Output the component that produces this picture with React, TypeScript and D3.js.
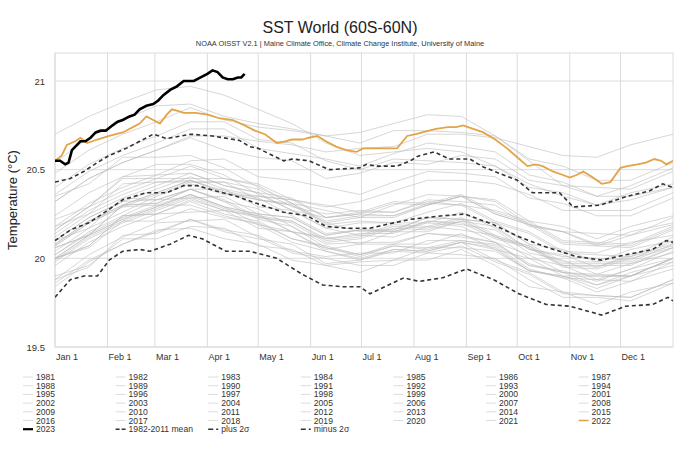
import React from 'react';
import * as d3 from 'd3';

// sample days (day of year) for the background years
const gridDays = [0, 20, 40, 60, 80, 100, 120, 140, 160, 180, 200, 220, 240, 260, 280, 300, 320, 340, 365];

const greyYears = [
  1981, 1982, 1983, 1984, 1985, 1986, 1987, 1988, 1989, 1990,
  1991, 1992, 1993, 1994, 1995, 1996, 1997, 1998, 1999, 2000,
  2001, 2002, 2003, 2004, 2005, 2006, 2007, 2008, 2009, 2010,
  2011, 2012, 2013, 2014, 2015, 2016, 2017, 2018, 2019, 2020, 2021,
];

const greyValues: number[][] = [
  [20.00, 20.06, 20.21, 20.21, 20.28, 20.23, 20.20, 20.11, 20.06, 20.01, 20.07, 20.06, 20.10, 20.07, 19.94, 19.89, 19.81, 19.87, 19.94],
  [19.90, 19.96, 20.11, 20.11, 20.18, 20.17, 20.07, 20.05, 19.96, 19.98, 19.99, 20.06, 20.06, 20.04, 19.93, 19.90, 19.85, 19.92, 19.98],
  [20.02, 20.14, 20.23, 20.30, 20.30, 20.24, 20.19, 20.09, 20.04, 19.99, 20.04, 20.03, 20.07, 19.98, 19.91, 19.80, 19.79, 19.78, 19.88],
  [19.88, 20.02, 20.12, 20.20, 20.21, 20.22, 20.12, 20.03, 20.00, 19.96, 19.96, 20.03, 20.02, 20.00, 19.88, 19.78, 19.78, 19.76, 19.86],
  [19.84, 19.98, 20.08, 20.16, 20.17, 20.11, 20.08, 19.99, 19.96, 19.92, 19.99, 19.99, 20.05, 19.96, 19.84, 19.81, 19.74, 19.81, 19.86],
  [19.88, 19.95, 20.13, 20.14, 20.22, 20.16, 20.13, 20.04, 20.01, 20.03, 20.03, 20.10, 20.10, 20.08, 19.96, 19.93, 19.87, 19.94, 20.00],
  [20.02, 20.15, 20.24, 20.33, 20.34, 20.35, 20.25, 20.23, 20.13, 20.16, 20.16, 20.23, 20.22, 20.20, 20.08, 20.05, 19.98, 20.05, 20.10],
  [20.10, 20.17, 20.34, 20.33, 20.39, 20.32, 20.22, 20.18, 20.06, 20.02, 20.07, 20.05, 20.09, 19.99, 19.92, 19.81, 19.79, 19.78, 19.88],
  [19.86, 19.99, 20.08, 20.15, 20.22, 20.15, 20.11, 20.08, 19.97, 19.99, 20.05, 20.04, 20.09, 20.06, 19.93, 19.89, 19.88, 19.87, 19.98],
  [20.00, 20.07, 20.24, 20.25, 20.33, 20.27, 20.24, 20.15, 20.12, 20.08, 20.15, 20.15, 20.21, 20.12, 20.07, 19.97, 19.97, 19.97, 20.06],
  [20.06, 20.13, 20.30, 20.31, 20.39, 20.33, 20.23, 20.21, 20.11, 20.14, 20.14, 20.21, 20.20, 20.11, 20.06, 19.96, 19.96, 19.96, 20.06],
  [20.07, 20.20, 20.29, 20.30, 20.36, 20.29, 20.19, 20.15, 20.04, 20.00, 20.05, 20.04, 20.09, 20.05, 19.93, 19.90, 19.83, 19.90, 19.96],
  [19.96, 20.09, 20.18, 20.25, 20.32, 20.25, 20.21, 20.11, 20.07, 20.02, 20.08, 20.14, 20.12, 20.09, 19.96, 19.92, 19.91, 19.90, 20.00],
  [19.98, 20.11, 20.20, 20.27, 20.34, 20.27, 20.23, 20.20, 20.09, 20.11, 20.17, 20.16, 20.21, 20.18, 20.05, 20.01, 20.00, 19.99, 20.10],
  [20.10, 20.23, 20.32, 20.33, 20.39, 20.32, 20.28, 20.18, 20.08, 20.09, 20.09, 20.14, 20.13, 20.09, 19.97, 19.92, 19.85, 19.90, 20.00],
  [20.00, 20.13, 20.22, 20.29, 20.36, 20.29, 20.25, 20.15, 20.11, 20.13, 20.12, 20.18, 20.16, 20.13, 20.00, 19.96, 19.88, 19.94, 20.04],
  [20.04, 20.17, 20.26, 20.35, 20.42, 20.36, 20.35, 20.33, 20.29, 20.32, 20.38, 20.44, 20.44, 20.42, 20.36, 20.27, 20.27, 20.27, 20.37],
  [20.35, 20.42, 20.57, 20.57, 20.58, 20.51, 20.40, 20.31, 20.20, 20.15, 20.15, 20.20, 20.18, 20.09, 20.02, 19.92, 19.90, 19.90, 20.00],
  [20.00, 20.07, 20.24, 20.25, 20.26, 20.27, 20.17, 20.15, 20.05, 20.08, 20.08, 20.08, 20.14, 20.05, 20.00, 19.90, 19.90, 19.90, 20.00],
  [19.99, 20.12, 20.21, 20.28, 20.35, 20.28, 20.24, 20.21, 20.10, 20.12, 20.18, 20.17, 20.22, 20.12, 20.06, 19.95, 19.94, 20.00, 20.06],
  [20.08, 20.21, 20.30, 20.37, 20.44, 20.37, 20.33, 20.30, 20.19, 20.21, 20.20, 20.26, 20.31, 20.21, 20.15, 20.04, 20.03, 20.09, 20.13],
  [20.12, 20.25, 20.34, 20.41, 20.48, 20.41, 20.37, 20.34, 20.23, 20.25, 20.31, 20.30, 20.35, 20.32, 20.19, 20.15, 20.14, 20.13, 20.23],
  [20.22, 20.29, 20.46, 20.47, 20.48, 20.41, 20.37, 20.27, 20.23, 20.25, 20.24, 20.30, 20.35, 20.25, 20.19, 20.08, 20.07, 20.06, 20.16],
  [20.14, 20.27, 20.36, 20.43, 20.43, 20.43, 20.39, 20.29, 20.25, 20.27, 20.26, 20.32, 20.30, 20.27, 20.21, 20.10, 20.09, 20.08, 20.18],
  [20.16, 20.29, 20.45, 20.45, 20.52, 20.45, 20.41, 20.31, 20.21, 20.24, 20.24, 20.31, 20.30, 20.20, 20.14, 20.03, 20.02, 20.01, 20.12],
  [20.08, 20.21, 20.30, 20.37, 20.44, 20.37, 20.33, 20.30, 20.20, 20.23, 20.23, 20.30, 20.35, 20.25, 20.19, 20.15, 20.07, 20.13, 20.19],
  [20.18, 20.25, 20.42, 20.43, 20.44, 20.38, 20.34, 20.24, 20.14, 20.16, 20.15, 20.21, 20.19, 20.16, 20.03, 19.99, 19.91, 19.97, 20.03],
  [20.00, 20.13, 20.22, 20.29, 20.36, 20.29, 20.25, 20.23, 20.13, 20.16, 20.16, 20.23, 20.22, 20.20, 20.08, 19.98, 19.98, 19.98, 20.08],
  [20.07, 20.20, 20.29, 20.36, 20.43, 20.43, 20.33, 20.31, 20.27, 20.23, 20.30, 20.36, 20.35, 20.33, 20.21, 20.18, 20.11, 20.18, 20.24],
  [20.24, 20.37, 20.46, 20.53, 20.53, 20.47, 20.36, 20.27, 20.17, 20.13, 20.19, 20.18, 20.23, 20.13, 20.07, 19.96, 19.95, 20.01, 20.07],
  [20.06, 20.13, 20.30, 20.31, 20.39, 20.39, 20.29, 20.27, 20.17, 20.20, 20.20, 20.20, 20.26, 20.17, 20.05, 20.02, 19.95, 20.02, 20.08],
  [20.10, 20.23, 20.32, 20.39, 20.46, 20.39, 20.35, 20.33, 20.23, 20.26, 20.32, 20.31, 20.36, 20.26, 20.20, 20.09, 20.08, 20.07, 20.17],
  [20.16, 20.29, 20.38, 20.45, 20.45, 20.45, 20.42, 20.33, 20.30, 20.26, 20.26, 20.33, 20.32, 20.30, 20.18, 20.15, 20.08, 20.15, 20.20],
  [20.18, 20.31, 20.40, 20.47, 20.55, 20.56, 20.46, 20.44, 20.40, 20.36, 20.43, 20.49, 20.48, 20.46, 20.34, 20.31, 20.24, 20.24, 20.34],
  [20.32, 20.45, 20.54, 20.61, 20.69, 20.69, 20.66, 20.64, 20.60, 20.62, 20.63, 20.70, 20.70, 20.68, 20.63, 20.58, 20.57, 20.64, 20.70],
  [20.70, 20.80, 20.88, 20.95, 20.97, 20.92, 20.84, 20.76, 20.65, 20.58, 20.60, 20.62, 20.60, 20.52, 20.42, 20.35, 20.30, 20.33, 20.40],
  [20.40, 20.53, 20.62, 20.69, 20.77, 20.77, 20.67, 20.65, 20.55, 20.50, 20.56, 20.55, 20.54, 20.52, 20.40, 20.37, 20.30, 20.37, 20.42],
  [20.32, 20.45, 20.54, 20.61, 20.68, 20.61, 20.57, 20.55, 20.45, 20.48, 20.54, 20.53, 20.58, 20.56, 20.44, 20.41, 20.40, 20.39, 20.49],
  [20.48, 20.61, 20.70, 20.77, 20.85, 20.78, 20.74, 20.72, 20.69, 20.65, 20.72, 20.72, 20.71, 20.69, 20.56, 20.52, 20.44, 20.44, 20.54],
  [20.54, 20.68, 20.78, 20.86, 20.87, 20.80, 20.76, 20.73, 20.69, 20.71, 20.76, 20.81, 20.80, 20.69, 20.55, 20.41, 20.35, 20.35, 20.40],
  [20.36, 20.49, 20.58, 20.65, 20.73, 20.73, 20.62, 20.59, 20.56, 20.52, 20.59, 20.65, 20.63, 20.60, 20.47, 20.43, 20.35, 20.41, 20.51],
];

// [day of year, °C]
const meanSeries: [number, number][] = [
  [0, 20.10], [9, 20.16], [20, 20.20], [31, 20.27], [40, 20.33], [54, 20.37], [66, 20.37], [76, 20.41],
  [84, 20.41], [95, 20.38], [107, 20.35], [119, 20.31], [135, 20.26], [149, 20.24], [160, 20.18],
  [172, 20.17], [186, 20.17], [200, 20.20], [210, 20.22], [229, 20.24], [242, 20.25], [259, 20.19],
  [272, 20.13], [288, 20.07], [308, 20.01], [323, 19.99], [337, 20.02], [353, 20.05], [361, 20.10], [365, 20.09],
];

const plus2Series: [number, number][] = [
  [0, 20.43], [9, 20.45], [17, 20.49], [25, 20.54], [32, 20.58], [42, 20.62], [50, 20.66], [58, 20.70],
  [66, 20.675], [80, 20.70], [93, 20.69], [109, 20.665], [115, 20.63], [120, 20.62], [135, 20.55],
  [140, 20.56], [150, 20.55], [162, 20.50], [180, 20.51], [184, 20.53], [190, 20.52], [202, 20.52],
  [210, 20.55], [214, 20.575], [224, 20.60], [233, 20.56], [245, 20.56], [253, 20.515], [273, 20.44],
  [282, 20.37], [298, 20.37], [306, 20.29], [322, 20.30], [338, 20.35], [351, 20.38], [359, 20.42], [365, 20.40],
];

const minus2Series: [number, number][] = [
  [0, 19.78], [9, 19.88], [17, 19.90], [25, 19.90], [32, 19.99], [40, 20.04], [50, 20.05], [56, 20.04],
  [68, 20.08], [79, 20.13], [87, 20.11], [101, 20.04], [115, 20.04], [131, 20.00], [146, 19.91],
  [158, 19.85], [170, 19.84], [180, 19.84], [186, 19.80], [206, 19.89], [215, 19.87], [229, 19.89],
  [243, 19.94], [259, 19.88], [274, 19.80], [290, 19.74], [304, 19.73], [323, 19.68], [337, 19.73],
  [353, 19.74], [362, 19.78], [365, 19.76],
];

const series2022: [number, number][] = [
  [0, 20.55], [4, 20.58], [7, 20.64], [12, 20.66], [15, 20.68], [19, 20.65], [25, 20.67], [32, 20.69],
  [40, 20.71], [46, 20.74], [50, 20.76], [54, 20.80], [58, 20.78], [62, 20.76], [66, 20.81], [69, 20.84],
  [73, 20.83], [76, 20.82], [83, 20.82], [90, 20.81], [97, 20.79], [105, 20.78], [112, 20.75], [118, 20.72],
  [124, 20.70], [131, 20.65], [136, 20.66], [140, 20.67], [146, 20.67], [150, 20.68], [155, 20.69],
  [160, 20.66], [166, 20.63], [172, 20.61], [178, 20.60], [182, 20.62], [186, 20.62], [195, 20.62],
  [202, 20.62], [208, 20.69], [213, 20.70], [217, 20.71], [221, 20.72], [225, 20.73], [232, 20.74],
  [237, 20.74], [241, 20.75], [247, 20.73], [253, 20.71], [260, 20.67], [267, 20.62], [273, 20.57],
  [279, 20.52], [284, 20.53], [288, 20.52], [294, 20.49], [300, 20.47], [304, 20.455], [308, 20.47],
  [312, 20.49], [317, 20.46], [323, 20.42], [328, 20.43], [334, 20.51], [338, 20.52], [344, 20.53],
  [349, 20.54], [354, 20.56], [358, 20.55], [361, 20.53], [365, 20.55],
];

const series2023: [number, number][] = [
  [0, 20.55], [3, 20.55], [6, 20.53], [8, 20.54], [10, 20.61], [13, 20.64], [15, 20.66], [18, 20.66],
  [21, 20.68], [24, 20.71], [27, 20.72], [30, 20.72], [34, 20.75], [37, 20.77], [40, 20.78], [44, 20.80],
  [47, 20.81], [50, 20.84], [54, 20.86], [58, 20.87], [61, 20.89], [64, 20.92], [68, 20.95], [72, 20.97],
  [76, 21.00], [79, 21.00], [82, 21.00], [86, 21.02], [90, 21.04], [93, 21.06], [96, 21.05], [99, 21.02],
  [102, 21.01], [105, 21.01], [108, 21.02], [110, 21.02], [112, 21.04],
];

const monthDays = [0, 31, 59, 90, 120, 151, 181, 212, 243, 273, 304, 334];
const monthLabels = ['Jan 1', 'Feb 1', 'Mar 1', 'Apr 1', 'May 1', 'Jun 1', 'Jul 1', 'Aug 1', 'Sep 1', 'Oct 1', 'Nov 1', 'Dec 1'];
const yTicks = [19.5, 20, 20.5, 21];

const FONT = '"Liberation Sans", Arial, Helvetica, sans-serif';
const ORANGE = '#e3a447';

const App: React.FC = () => {
  const width = 680;
  const height = 459;
  const left = 55;
  const right = 673;
  const top = 53;
  const bottom = 347;

  const x = d3.scaleLinear().domain([0, 365]).range([left, right]);
  const y = d3.scaleLinear().domain([19.5, 21]).range([bottom, 81]);

  const line = d3.line<[number, number]>()
    .x(d => x(d[0]))
    .y(d => y(d[1]));

  const greyLine = d3.line<number>()
    .x((_, i) => x(gridDays[i]))
    .y(d => y(d));

  // legend entries: 42 year rows then the special series
  const legendItems = [
    ...greyYears.map(yr => ({ label: String(yr), kind: 'grey' })),
    { label: '2022', kind: 'orange' },
    { label: '2023', kind: 'black' },
    { label: '1982-2011 mean', kind: 'mean' },
    { label: 'plus 2σ', kind: 'sigma' },
    { label: 'minus 2σ', kind: 'sigma' },
  ];

  return (
    <svg width={width} height={height} style={{ position: 'absolute', left: 0, top: 0, background: '#fff' }}
      fontFamily={FONT}>
      <defs>
        <clipPath id="plot-clip">
          <rect x={left} y={top} width={right - left} height={bottom - top} />
        </clipPath>
      </defs>

      <text x={340} y={33} textAnchor="middle" fontSize={16} fill="#222">SST World (60S-60N)</text>
      <text x={340} y={46} textAnchor="middle" fontSize={7.4} fill="#333">
        NOAA OISST V2.1 | Maine Climate Office, Climate Change Institute, University of Maine
      </text>

      {/* grid */}
      {monthDays.map(d => (
        <line key={'vx' + d} x1={x(d)} x2={x(d)} y1={top} y2={bottom} stroke="#dcdcdc" />
      ))}
      {yTicks.map(t => (
        <line key={'hy' + t} x1={left} x2={right} y1={y(t)} y2={y(t)} stroke="#dcdcdc" />
      ))}
      <rect x={left} y={top} width={right - left} height={bottom - top} fill="none" stroke="#dcdcdc" />

      <g clipPath="url(#plot-clip)" fill="none">
        {greyValues.map((vals, i) => (
          <path key={greyYears[i]} d={greyLine(vals) || ''} stroke="#bcbcbc" strokeOpacity={0.7}
            strokeWidth={0.85} strokeLinejoin="round" />
        ))}
        <path d={line(plus2Series) || ''} stroke="#333" strokeWidth={1.6} strokeDasharray="4,3" />
        <path d={line(minus2Series) || ''} stroke="#333" strokeWidth={1.6} strokeDasharray="4,3" />
        <path d={line(meanSeries) || ''} stroke="#333" strokeWidth={1.6} strokeDasharray="4,3" />
        <path d={line(series2022) || ''} stroke={ORANGE} strokeWidth={1.8} />
        <path d={line(series2023) || ''} stroke="#000" strokeWidth={2.6} />
      </g>

      {/* axes labels */}
      {yTicks.map(t => (
        <text key={'yt' + t} x={45} y={y(t) + 3.5} textAnchor="end" fontSize={9.5} fill="#333">{String(t)}</text>
      ))}
      {monthDays.map((d, i) => (
        <text key={'xt' + d} x={x(d) + 1} y={360} fontSize={9} fill="#333">{monthLabels[i]}</text>
      ))}
      <text transform="translate(17,200) rotate(-90)" textAnchor="middle" fontSize={13} fill="#222">
        Temperature (°C)
      </text>

      {/* legend */}
      {legendItems.map((item, i) => {
        const col = i % 7;
        const row = Math.floor(i / 7);
        const lx = 23 + col * 92.6;
        const ly = 377 + row * 8.7;
        let stroke = '#dcdcdc';
        let sw = 1;
        let dash: string | undefined;
        if (item.kind === 'orange') { stroke = ORANGE; sw = 1.6; }
        if (item.kind === 'black') { stroke = '#000'; sw = 2.2; }
        if (item.kind === 'mean') { stroke = '#333'; sw = 1.5; dash = '4,2'; }
        if (item.kind === 'sigma') { stroke = '#333'; sw = 1.5; dash = '5,3'; }
        return (
          <g key={item.label}>
            <line x1={lx} x2={lx + 10} y1={ly} y2={ly} stroke={stroke} strokeWidth={sw} strokeDasharray={dash} />
            <text x={lx + 13} y={ly + 3} fontSize={8.6} fill="#333">{item.label}</text>
          </g>
        );
      })}
    </svg>
  );
};

export default App;
